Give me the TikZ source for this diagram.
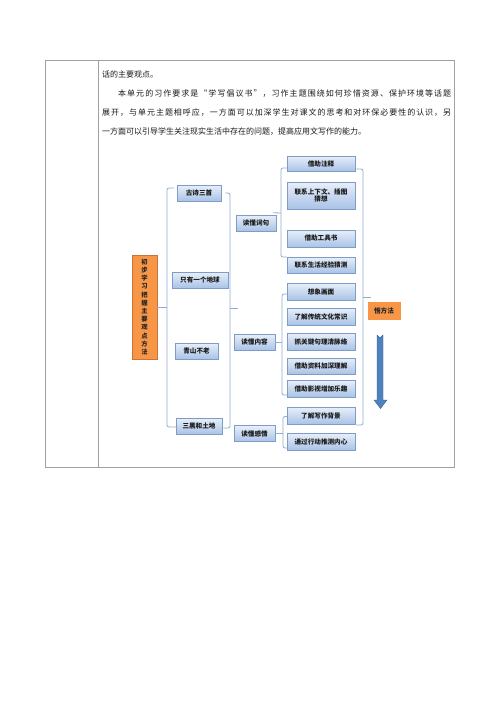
\documentclass[tikz,border=0pt]{standalone}
\usepackage{fontspec}
\setmainfont{Noto Sans CJK SC}
\usetikzlibrary{shadows,calc}
\definecolor{bxtop}{HTML}{E8EFF9}
\definecolor{bxbot}{HTML}{A9C3E7}
\definecolor{bxdraw}{HTML}{7E9CC8}
\definecolor{brk}{HTML}{93ACCF}
\definecolor{org}{HTML}{F79646}
\definecolor{orgd}{HTML}{C9733A}
\definecolor{arr}{HTML}{4F81BD}
\definecolor{arrd}{HTML}{3A6496}
\definecolor{tbl}{HTML}{A0A0A0}
\makeatletter
\def\spr@aux#1{\ifx\relax#1\else#1\hfil\expandafter\spr@aux\fi}
\newcommand\spreadtext[2]{\makebox[#1][s]{\spr@aux#2\relax\unskip}}
\makeatother
\begin{document}
\begin{tikzpicture}[x=1pt,y=-1pt,
  bx/.style={draw=bxdraw, line width=0.5pt, top color=bxtop, bottom color=bxbot,
    minimum height=16pt, inner sep=1pt, font=\fontsize{6.6}{7.6}\selectfont\bfseries,
    text=black!90, align=center,
    drop shadow={shadow xshift=0.7pt, shadow yshift=-0.7pt, opacity=0.25, fill=black}},
  lthree/.style={bx, minimum width=68pt},
  brace/.style={draw=brk, line width=0.8pt, rounded corners=2pt},
  para/.style={anchor=west, inner sep=0pt, font=\fontsize{8}{9}\selectfont, text=black!90},
  orbox/.style={fill=org, draw=orgd, line width=0.5pt, inner sep=0pt, text=black!85}]
\useasboundingbox (0,0) rectangle (500,707);
\fill[white] (0,0) rectangle (500,707);
% table
\draw[tbl, line width=0.7pt] (45,60) rectangle (454,467);
\draw[tbl, line width=0.7pt] (98,60) -- (98,467);
% paragraph
\node[para] (t1) at (102,74) {话的主要观点。};
\node[para] (t2) at (118,94) {\spreadtext{333pt}{本单元的习作要求是“学写倡议书”，习作主题围绕如何珍惜资源、保护环境等话题}};
\node[para] (t3) at (102,113) {\spreadtext{349pt}{展开，与单元主题相呼应，一方面可以加深学生对课文的思考和对环保必要性的认识，另}};
\node[para] (t4) at (102,132) {一方面可以引导学生关注现实生活中存在的问题，提高应用文写作的能力。};
% main node
\node[orbox, minimum width=25pt, minimum height=104pt, align=center,
  font=\fontsize{6.3}{8.2}\selectfont\bfseries] (main) at (144.5,307)
  {初\\步\\学\\习\\把\\握\\主\\要\\观\\点\\方\\法};
% level 1
\node[bx, minimum width=44pt] (g1) at (199,193) {古诗三首};
\node[bx, minimum width=56pt] (g2) at (200,280) {只有一个地球};
\node[bx, minimum width=43pt] (g3) at (196.5,351) {青山不老};
\node[bx, minimum width=46pt] (g4) at (199,426) {三黑和土地};
% level 2
\node[bx, minimum width=40pt] (d1) at (256,223) {读懂词句};
\node[bx, minimum width=41pt] (d2) at (254.5,342) {读懂内容};
\node[bx, minimum width=41pt] (d3) at (254.5,433.5) {读懂感情};
% level 3
\node[lthree, minimum height=15pt] (a1) at (321,163.5) {借助注释};
\node[lthree, minimum height=27pt] (a2) at (321,195.5) {联系上下文、插图\\猜想};
\node[lthree, minimum height=17pt] (a3) at (321,238.5) {借助工具书};
\node[lthree] (a4) at (321,265) {联系生活经验猜测};
\node[lthree, minimum height=17pt] (b1) at (321,291.5) {想象画面};
\node[lthree, minimum height=17pt] (b2) at (321,316.5) {了解传统文化常识};
\node[lthree, minimum height=17pt] (b3) at (321,341.5) {抓关键句理清脉络};
\node[lthree] (b4) at (321,366) {借助资料加深理解};
\node[lthree, minimum height=17pt] (b5) at (321,388.5) {借助影视增加乐趣};
\node[lthree, minimum height=17pt] (c1) at (321,415.5) {了解写作背景};
\node[lthree, minimum height=17pt] (c2) at (321,441.5) {通过行动推测内心};
% method
\node[orbox, draw=org, minimum width=32pt, minimum height=17pt,
  font=\fontsize{6.6}{7.6}\selectfont\bfseries] (wu) at (384,311) {悟方法};
% brackets
\draw[brace] ($(g1.west)+(-3,-5)$) -- (167,188) -- (167,427) -- ($(g4.west)+(0,1)$);
\draw[brace] (main.east) -- (167,307);
\draw[brace] ($(g1.east)+(4,0)$) -- (230,193) -- (230,428) -- ($(g4.east)+(1,2)$);
\coordinate (m2) at (238,308);
\draw[brace] (230,308) -- (m2);
\draw[brace] ($(a1.west)+(0,4.5)$) -- (281,168) -- (281,257) -- ($(a4.west)+(0,-8)$);
\draw[brace] ($(d1.north east)+(-3,-2)$) -- (281,213);
\draw[brace] ($(b1.west)+(0,2.5)$) -- (282,294) -- (282,395) -- ($(b5.west)+(0,6.5)$);
\draw[brace] (d2.east) -- (282,342);
\draw[brace] ($(c1.west)+(0,1)$) -- (283,416.5) -- (283,448) -- ($(c2.west)+(0,6.5)$);
\draw[brace] (d3.east) -- (283,433.5);
\draw[brace] ($(a1.east)+(1,5.5)$) -- (363,169) -- (363,425) -- ($(c1.east)+(1,9.5)$);
\coordinate (m3) at (371,297);
\draw[brace] (363,297) -- (m3);
% arrow
\filldraw[fill=arr, draw=arrd, line width=0.4pt]
  (377,335) -- (380,338) -- (383,335) -- (383,400) -- (387,400) -- (380.5,408.5)
  -- (374,400) -- (377,400) -- cycle;
\end{tikzpicture}
\end{document}
